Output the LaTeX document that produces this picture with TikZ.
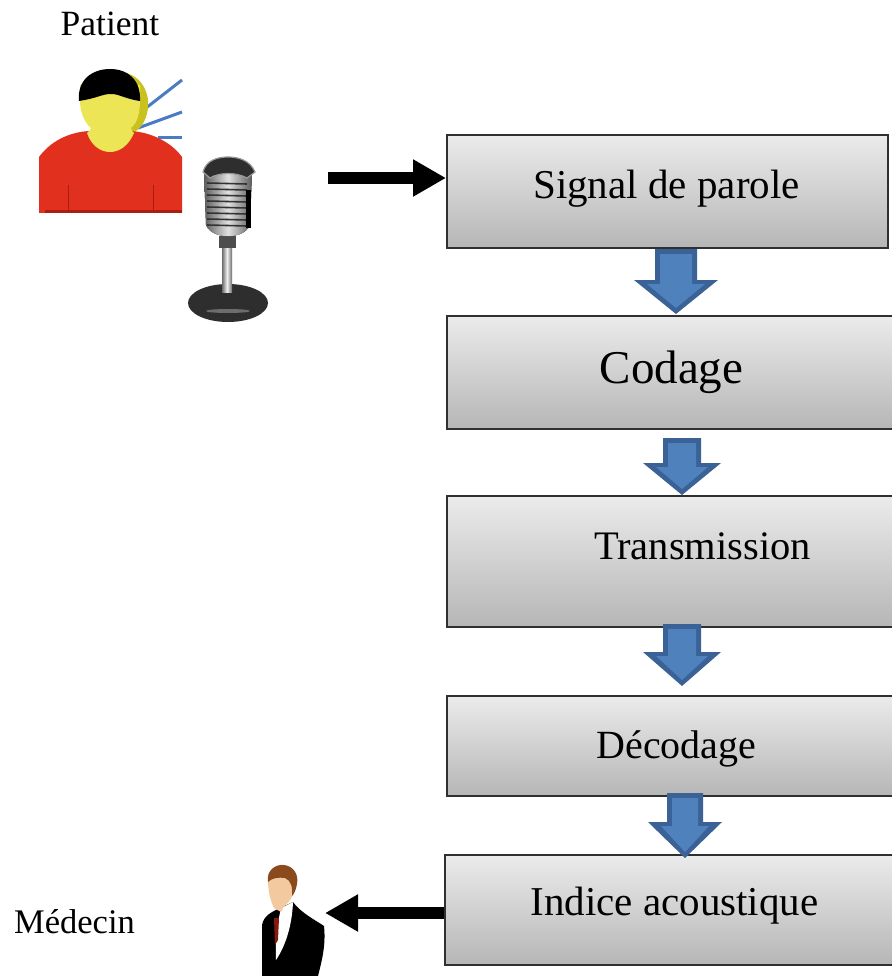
\documentclass[tikz,border=0pt]{standalone}
\usepackage{fontspec}
\setmainfont{Liberation Serif}
\usetikzlibrary{arrows.meta,positioning}
\definecolor{boxline}{HTML}{303030}
\definecolor{boxtop}{HTML}{EBEBEB}
\definecolor{boxbot}{HTML}{B6B6B6}
\definecolor{arrowfill}{HTML}{4F81BD}
\definecolor{arrowedge}{HTML}{3A6296}
\definecolor{shirtred}{HTML}{E2301E}
\definecolor{darkred}{HTML}{A81E10}
\definecolor{skinyellow}{HTML}{ECE657}
\definecolor{shadowyellow}{HTML}{C9C21E}
\definecolor{voiceblue}{HTML}{4A7CC4}
\definecolor{micdark}{HTML}{2E2E2E}
\definecolor{micgrey}{HTML}{9A9A9A}
\definecolor{hairbrown}{HTML}{8A4A1E}
\definecolor{skinpeach}{HTML}{F3C9A0}
\tikzset{
  x=1pt,y=-1pt,
  stagebox/.style={draw=boxline,line width=2pt,top color=boxtop,bottom color=boxbot,
    rectangle,anchor=north west,inner sep=0pt},
  flowblack/.style={line width=12pt,draw=black,-{Triangle[length=33pt,width=35pt]}},
  caption/.style={inner sep=0pt},
  boxlabel/.style={inner sep=0pt},
}
% centre x, y top, y bottom, half shaft, half head, y where the head starts (outer outline)
\newcommand{\blockarrow}[6]{%
  \fill[arrowedge] (#1-#4,#2) -- (#1+#4,#2) -- (#1+#4,#6) -- (#1+#5,#6) -- (#1,#3)
    -- (#1-#5,#6) -- (#1-#4,#6) -- cycle;
  \fill[arrowfill] (#1-#4+5,#2+5) -- (#1+#4-5,#2+5) -- (#1+#4-5,#6+4) -- (#1+#5-13,#6+4) -- (#1,#3-6)
    -- (#1-#5+13,#6+4) -- (#1-#4+5,#6+4) -- cycle;}
\begin{document}
\begin{tikzpicture}
\useasboundingbox (0,0) rectangle (891,976);
\fill[white] (0,0) rectangle (891,976);

% boxes
\node[stagebox,minimum width=441pt,minimum height=113pt] (signal) at (446,134) {};
\node[stagebox,minimum width=447pt,minimum height=113pt] (codage) at (446,315) {};
\node[stagebox,minimum width=447pt,minimum height=131pt] (trans) at (446,495) {};
\node[stagebox,minimum width=447pt,minimum height=100pt] (decod) at (446,695) {};
\node[stagebox,minimum width=449pt,minimum height=110pt] (indice) at (444,854) {};

% blue arrows
\blockarrow{676}{249}{314}{21}{42}{280}
\blockarrow{682}{438}{495}{19}{39}{463}
\blockarrow{682}{624}{686}{19}{39}{652}
\blockarrow{685}{793}{858}{18}{37}{822}

% box labels
\node[boxlabel,font=\fontsize{41}{44}\selectfont] (tsignal) at (666.5,189) {Signal de parole};
\node[boxlabel,font=\fontsize{47}{50}\selectfont] (tcodage) at (671.5,372) {Codage};
\node[boxlabel,font=\fontsize{40.5}{44}\selectfont] (ttrans) at (702.5,546) {Transmission};
\node[boxlabel,font=\fontsize{40}{44}\selectfont] (tdecod) at (676.5,749) {Décodage};
\node[boxlabel,font=\fontsize{41}{44}\selectfont] (tindice) at (674.5,906) {Indice acoustique};

% captions
\node[caption,font=\fontsize{35.5}{38}\selectfont] (patient) at (110,24) {Patient};
\node[caption,font=\fontsize{34.5}{38}\selectfont] (medecin) at (74.5,922) {Médecin};

% patient figure
\draw[voiceblue,line width=3pt] (146,108) -- (182,80);
\draw[voiceblue,line width=3pt] (138,128) -- (182,112);
\draw[voiceblue,line width=3pt] (158,138) -- (182,138);
\fill[shadowyellow] (118,72) .. controls (140,72) and (150,92) .. (148,108)
  .. controls (146,124) and (138,132) .. (128,135) -- (118,110) -- cycle;
\fill[shirtred] (39,213) -- (39,157) .. controls (50,142) and (68,132) .. (90,131)
  -- (130,131) .. controls (152,132) and (172,143) .. (182,157) -- (182,213) -- cycle;
\fill[darkred] (45,210) rectangle (182,213);
\draw[darkred,line width=.8pt] (68,185) -- (68,210);
\draw[darkred,line width=.8pt] (153,185) -- (153,210);
\fill[skinyellow] (80,85) -- (140,85) -- (140,100) .. controls (140,112) and (138,122) .. (131,128)
  .. controls (131,130) and (132,131) .. (134,133) .. controls (129,145) and (120,152) .. (110,152)
  .. controls (100,152) and (91,145) .. (87,133) .. controls (89,131) and (91,130) .. (91,128)
  .. controls (84,122) and (80,112) .. (80,100) -- cycle;
\fill[black] (79,101) .. controls (77,80) and (92,69) .. (110,69)
  .. controls (128,69) and (141,80) .. (140,101)
  .. controls (132,100) and (124,97) .. (118,95) .. controls (112,93) and (106,94) .. (100,96)
  .. controls (94,98) and (86,100) .. (79,101) -- cycle;

% microphone
\fill[micdark] (228,303) ellipse (40pt and 19pt);
\fill[micdark!70!white] (228,311) ellipse (22pt and 2pt);
\fill[left color=micgrey!70!black,right color=micgrey!70!black,middle color=white!85!micgrey] (222,246) rectangle (232,292);
\fill[micgrey!50!black] (219,236) rectangle (236,248);
\fill[left color=micgrey!60!black,right color=micgrey!60!black,middle color=white!70!micgrey] (204,172) .. controls (204,165) and (250,165) .. (252,172)
  -- (250,225) .. controls (244,240) and (212,240) .. (206,225) -- cycle;
\fill[micdark,draw=micgrey,line width=1.2pt] (203,172) .. controls (206,160) and (218,157) .. (228,157)
  .. controls (238,157) and (250,160) .. (255,172) -- (247,178) .. controls (236,172) and (220,172) .. (210,178) -- cycle;
\foreach \yy in {183,189,195,201,207,213,219,225}
  \draw[black!80,line width=1.6pt] (207,\yy) -- (247,\yy+1);
\fill[black] (246,190) rectangle (251,228);

% doctor
\fill[black] (262,976) -- (262,925) .. controls (264,915) and (272,912) .. (280,908)
  -- (293,902) .. controls (300,912) and (315,920) .. (324,926)
  .. controls (326,945) and (322,960) .. (318,976) -- cycle;
\fill[white] (281,908) -- (293,902) .. controls (292,925) and (286,945) .. (276,960) .. controls (275,945) and (277,925) .. (281,908) -- cycle;
\fill[darkred!80!black] (274,918) -- (279,918) -- (278,940) -- (275,945) -- cycle;
\fill[skinpeach] (268,880) .. controls (270,870) and (292,870) .. (295,882)
  .. controls (295,892) and (291,902) .. (284,906) -- (281,912) -- (274,908)
  .. controls (270,900) and (268,890) .. (268,880) -- cycle;
\fill[hairbrown] (268,882) .. controls (266,870) and (276,864) .. (284,865)
  .. controls (293,866) and (299,874) .. (297,884)
  .. controls (296,890) and (294,894) .. (292,896) .. controls (293,888) and (291,880) .. (285,878)
  .. controls (278,877) and (272,878) .. (268,882) -- cycle;

% black connectors
\coordinate (micout) at (328,178);
\coordinate (docin) at (325,913);
\path (signal.west |- micout) coordinate (sigin);
\path (indice.west |- docin) coordinate (indout);
\draw[flowblack] (micout) -- (sigin);
\draw[flowblack] (indout) -- (docin);
\end{tikzpicture}
\end{document}
